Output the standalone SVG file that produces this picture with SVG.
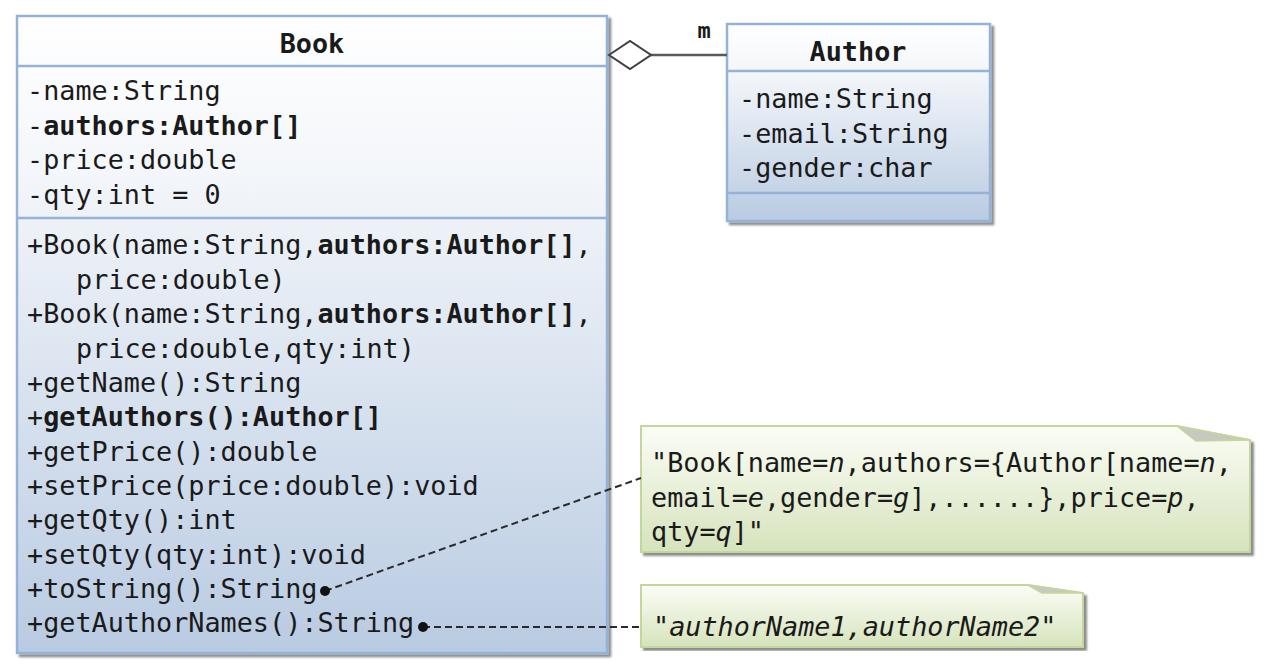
<svg xmlns="http://www.w3.org/2000/svg" width="1266" height="668" viewBox="0 0 1266 668">
<defs>
<linearGradient id="blue" x1="0" y1="0" x2="0" y2="1">
<stop offset="0" stop-color="#ffffff"/>
<stop offset="0.25" stop-color="#f3f6fa"/>
<stop offset="1" stop-color="#b9cbe2"/>
</linearGradient>
<linearGradient id="green" x1="0" y1="0" x2="0" y2="1">
<stop offset="0" stop-color="#fbfdf6"/>
<stop offset="1" stop-color="#d6e3bc"/>
</linearGradient>
<filter id="sh" x="-5%" y="-5%" width="110%" height="110%">
<feGaussianBlur in="SourceAlpha" stdDeviation="1.2"/>
<feOffset dx="3" dy="3" result="b"/>
<feComponentTransfer><feFuncA type="linear" slope="0.45"/></feComponentTransfer>
<feMerge><feMergeNode/><feMergeNode in="SourceGraphic"/></feMerge>
</filter>
</defs>
<style>
.box{stroke:#95b3d7;stroke-width:2.5;fill:url(#blue)}
.div{stroke:#95b3d7;stroke-width:2.5}
.note{stroke:#c3d69b;stroke-width:2;fill:url(#green)}
.fold{fill:#c6c9c0;stroke:#c3d69b;stroke-width:1.5}
text{font-family:"DejaVu Sans Mono","Liberation Mono",monospace;font-size:26.8px;fill:#1a1a1a}
.t{font-weight:bold;text-anchor:middle}
.b{font-weight:bold}
.i{font-style:italic}
.dash{stroke:#2a2a2a;stroke-width:2;stroke-dasharray:7 4;fill:none}
</style>

<g id="book">
<rect x="17" y="16" width="590" height="637" class="box" filter="url(#sh)"/>
<line x1="17" y1="66" x2="607" y2="66" class="div"/>
<line x1="17" y1="218" x2="607" y2="218" class="div"/>
<text x="312" y="53" class="t">Book</text>
<text x="27" y="100">-name:String</text>
<text x="27" y="134.5">-<tspan class="b">authors:Author[]</tspan></text>
<text x="27" y="169">-price:double</text>
<text x="27" y="203.5">-qty:int = 0</text>
<text x="27" y="254">+Book(name:String,<tspan class="b">authors:Author[]</tspan>,</text>
<text x="76" y="288.5">price:double)</text>
<text x="27" y="323">+Book(name:String,<tspan class="b">authors:Author[]</tspan>,</text>
<text x="76" y="357.5">price:double,qty:int)</text>
<text x="27" y="392">+getName():String</text>
<text x="27" y="426">+<tspan class="b">getAuthors():Author[]</tspan></text>
<text x="27" y="460.5">+getPrice():double</text>
<text x="27" y="495">+setPrice(price:double):void</text>
<text x="27" y="529">+getQty():int</text>
<text x="27" y="563.5">+setQty(qty:int):void</text>
<text x="27" y="598">+toString():String</text>
<text x="27" y="632">+getAuthorNames():String</text>
</g>

<g id="author">
<rect x="727" y="24" width="263" height="197" class="box" filter="url(#sh)"/>
<line x1="727" y1="71" x2="990" y2="71" class="div"/>
<line x1="727" y1="193" x2="990" y2="193" class="div"/>
<text x="858" y="61" class="t">Author</text>
<text x="739" y="108">-name:String</text>
<text x="739" y="142.5">-email:String</text>
<text x="739" y="177">-gender:char</text>
</g>

<g id="note1">
<path d="M641,426 L1177,426 L1250,440 L1250,552 L641,552 Z" class="note" filter="url(#sh)"/>
<polygon points="1177,426 1250,440 1196,441" class="fold"/>
<text x="651" y="472">"Book[name=<tspan class="i">n</tspan>,authors={Author[name=<tspan class="i">n</tspan>,</text>
<text x="651" y="506.5">email=<tspan class="i">e</tspan>,gender=<tspan class="i">g</tspan>],......},price=<tspan class="i">p</tspan>,</text>
<text x="651" y="541">qty=<tspan class="i">q</tspan>]"</text>
</g>

<g id="note2">
<path d="M641,585 L1028,585 L1083,593 L1083,647 L641,647 Z" class="note" filter="url(#sh)"/>
<polygon points="1028,585 1083,593 1042,593" class="fold"/>
<text x="653" y="636">"<tspan class="i">authorName1,authorName2</tspan>"</text>
</g>

<g id="connectors">
<line x1="650" y1="55" x2="727" y2="55" stroke="#5a5a5a" stroke-width="2.5"/>
<polygon points="609,55 630,41 651,55 630,69" fill="#ffffff" stroke="#404040" stroke-width="2"/>
<text x="704" y="38" class="b" style="font-size:22px;text-anchor:middle">m</text>
<path class="dash" d="M325,591 L641,478"/>
<path class="dash" d="M423,627 L641,627"/>
<circle cx="325" cy="591" r="5" fill="#111"/>
<circle cx="423" cy="627" r="5" fill="#111"/>
</g>
</svg>
